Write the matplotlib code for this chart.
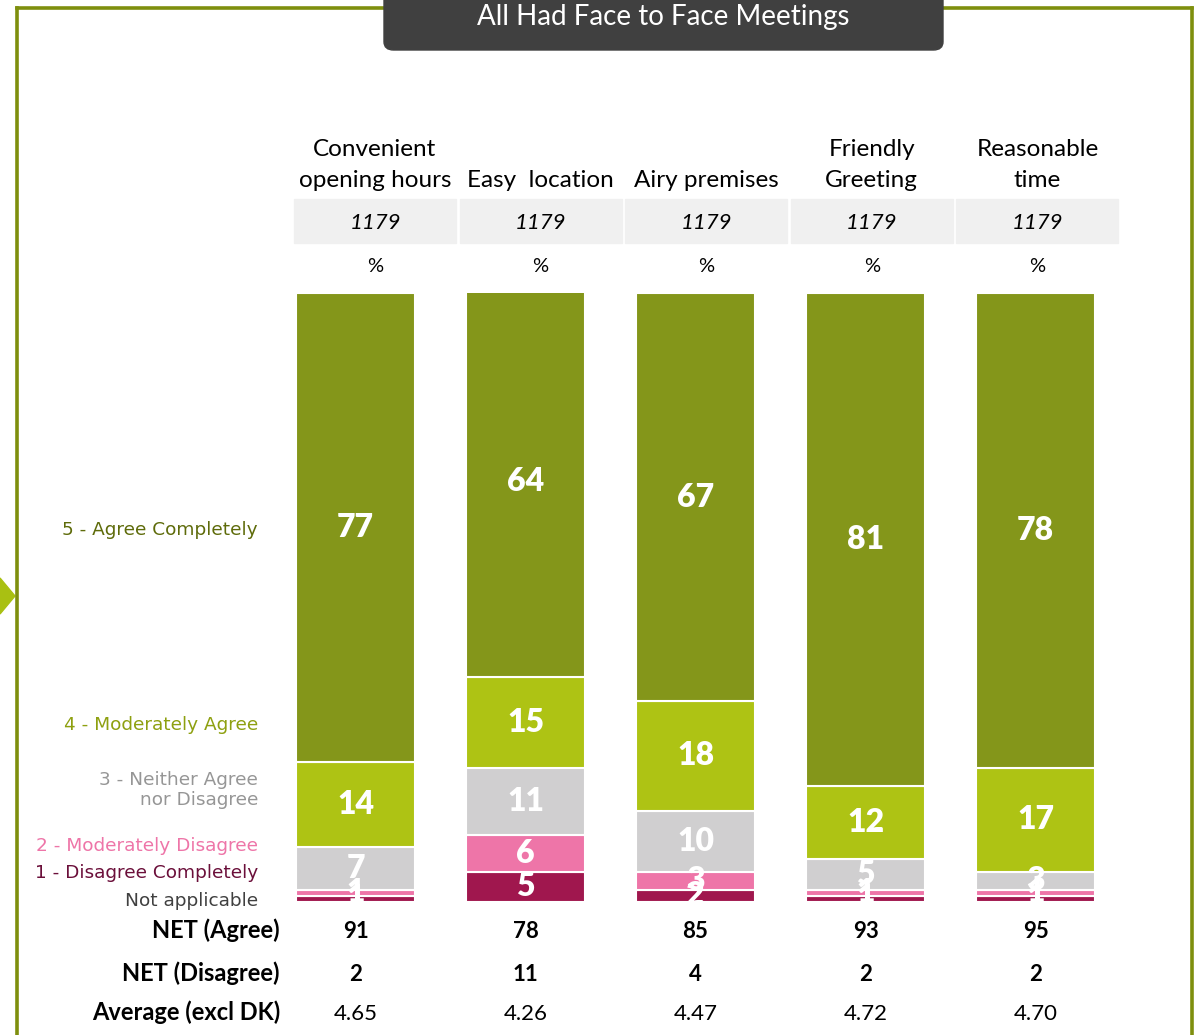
import matplotlib
matplotlib.use("Agg")
import matplotlib.pyplot as plt
from matplotlib.patches import FancyBboxPatch, Polygon, Rectangle
from matplotlib.transforms import blended_transform_factory
import numpy as np

# ---------------- data ----------------
categories = ["Convenient\nopening hours", "Easy  location", "Airy premises",
              "Friendly\nGreeting", "Reasonable\ntime"]
base_n = ["1179", "1179", "1179", "1179", "1179"]
not_applicable = [0, 0, 0, 0, 0]
disagree_completely = [1, 5, 2, 1, 1]
moderately_disagree = [1, 6, 3, 1, 1]
neither = [7, 11, 10, 5, 3]
moderately_agree = [14, 15, 18, 12, 17]
agree_completely = [77, 64, 67, 81, 78]
net_agree = ["91", "78", "85", "93", "95"]
net_disagree = ["2", "11", "4", "2", "2"]
average = ["4.65", "4.26", "4.47", "4.72", "4.70"]

series_names = ["Not applicable", "1 - Disagree Completely", "2 - Moderately Disagree",
                "3 - Neither Agree\nnor Disagree", "4 - Moderately Agree",
                "5 - Agree Completely"]
series_values = [not_applicable, disagree_completely, moderately_disagree,
                 neither, moderately_agree, agree_completely]
series_colors = ["#7f7f7f", "#A0174E", "#EE75A8", "#D0CFD0", "#AEC314", "#84961A"]
label_colors = ["#404040", "#6B0F3A", "#EE75A8", "#969696", "#8EA010", "#5E6B0A"]

W, H = 1195, 1035
fig = plt.figure(figsize=(W / 100, H / 100), dpi=100)
fig.patch.set_facecolor("white")

def fx(px):
    return px / W

def fy(py):
    return 1 - py / H

FONT = "Lato"
LEFTFONT = "DejaVu Sans"

# ---------------- frame ----------------
olive = "#7E8F0E"
fig.add_artist(plt.Line2D([fx(17), fx(17)], [fy(8), 0], color=olive, lw=2.6))
fig.add_artist(plt.Line2D([fx(17), fx(1192)], [fy(8), fy(8)], color=olive, lw=2.6))
fig.add_artist(plt.Line2D([fx(1192), fx(1192)], [fy(8), 0], color=olive, lw=2.6))
fig.add_artist(Polygon([[fx(0), fy(578)], [fx(15), fy(596)], [fx(0), fy(614)]],
                       closed=True, color="#A9C012", transform=fig.transFigure))

# title box
fig.add_artist(FancyBboxPatch((fx(384), fy(50)), fx(943 - 384), fy(-20) - fy(50),
                              boxstyle="round,pad=0,rounding_size=0.008",
                              transform=fig.transFigure, color="#404040", zorder=5))
fig.text(fx(663), fy(25), "All Had Face to Face Meetings", color="white",
         fontsize=20, family=FONT, ha="center", va="baseline", zorder=6)

# ---------------- bars ----------------
ax = fig.add_axes([0, fy(902), 1, (902 - 293) / H])
pitch = 170.0
c0 = 355.5
ax.set_xlim(-c0 / pitch, (W - c0) / pitch)
ax.set_ylim(0, 100)
ax.axis("off")

x = np.arange(len(categories))
bottom = np.zeros(len(categories))
for name, vals, col in zip(series_names, series_values, series_colors):
    vals = np.array(vals, dtype=float)
    ax.bar(x, vals, width=0.7, bottom=bottom, color=col, edgecolor="white",
           linewidth=1.5)
    if name != "Not applicable":
        for xi, b, v in zip(x, bottom, vals):
            ax.text(xi, b + v / 2, f"{int(v)}", color="white", fontsize=23,
                    fontweight="heavy", family=FONT, ha="center", va="center")
    bottom += vals

# left legend-like labels
left_y = [901, 873, 846, 790, 725, 530]
for name, col, py in zip(series_names, label_colors, left_y):
    fig.text(fx(258), fy(py), name, color=col, fontsize=13.3, family=LEFTFONT,
             ha="right", va="center", linespacing=1.15)

# ---------------- header ----------------
hdr_pitch = 165.6
for i, cat in enumerate(categories):
    cx = 375 + hdr_pitch * i
    lines = cat.split("\n")
    for j, line in enumerate(reversed(lines)):
        fig.text(fx(cx), fy(187 - 31 * j), line, fontsize=17.5, family=FONT,
                 ha="center", va="baseline", color="black")
    fig.add_artist(Rectangle((fx(294 + hdr_pitch * i), fy(243)), fx(162),
                             fy(199) - fy(243), transform=fig.transFigure,
                             color="#F0F0F0", zorder=0))
    fig.text(fx(cx), fy(229), base_n[i], fontsize=16, family=FONT, style="italic",
             ha="center", va="baseline")
    fig.text(fx(cx), fy(272), "%", fontsize=14.5, family=FONT, ha="center",
             va="baseline")

# ---------------- bottom rows ----------------
tr = blended_transform_factory(ax.transData, fig.transFigure)
row_specs = [("NET (Agree)", net_agree, 938, "bold"),
             ("NET (Disagree)", net_disagree, 981, "bold"),
             ("Average (excl DK)", average, 1020, "normal")]
for label, vals, py, wt in row_specs:
    fig.text(fx(280), fy(py), label, fontsize=17, fontweight="bold", family=FONT,
             ha="right", va="baseline")
    for xi, v in zip(x, vals):
        ax.text(xi, fy(py), v, transform=tr, fontsize=16, fontweight=wt,
                family=FONT, ha="center", va="baseline")

fig.savefig("out.png", dpi=100, facecolor="white")
